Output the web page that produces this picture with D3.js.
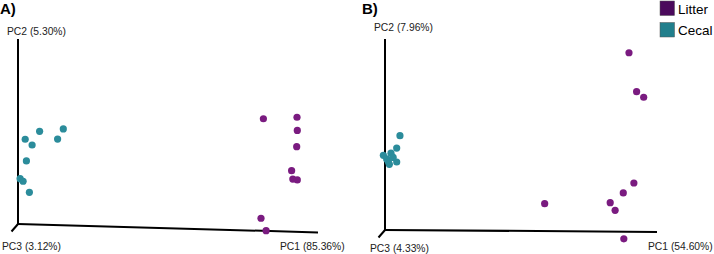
<!DOCTYPE html>
<html>
<head>
<meta charset="utf-8">
<script src="https://cdn.jsdelivr.net/npm/d3@7"></script>
<style>
body{margin:0;background:#fff;}
text{font-family:"Liberation Sans",Arial,sans-serif;}
</style>
</head>
<body>
<div id="chart"></div>
<script>
// projected PCoA coordinates (0-100 along each drawn axis)
var groups = ["Litter","Cecal"];
var groupColors = ["#4b0a5c","#217f8c"];
var dotColors = ["#7a1b80","#2b8c9b"];

var panelNames = ["A)","B)"];
var pc1Labels = ["PC1 (85.36%)","PC1 (54.60%)"];
var pc2Labels = ["PC2 (5.30%)","PC2 (7.96%)"];
var pc3Labels = ["PC3 (3.12%)","PC3 (4.33%)"];

var litterA_x = [81.8,93.0,93.1,92.9,91.2,91.6,93.1,81.0,82.7];
var litterA_y = [56.9,57.7,50.6,41.8,28.8,24.3,23.8,3.1,-3.6];
var cecalA_x = [7.2,15.1,2.4,4.7,13.2,2.8,0.7,1.7,3.8];
var cecalA_y = [50.1,51.4,45.8,42.7,45.9,34.1,24.5,23.1,17.1];

var litterB_x = [89.7,92.5,95.1,91.5,87.6,58.7,82.8,84.6,87.8];
var litterB_y = [92.8,72.4,69.5,24.6,19.4,13.8,14.3,10.3,-4.6];
var cecalB_x = [5.5,4.3,2.2,-0.6,0.6,4.3,1.2,1.6,3.0];
var cecalB_y = [49.4,42.9,40.2,39.1,37.2,35.6,35.8,34.4,38.0];

var width=714, height=254;
var svg = d3.select("#chart")
    .append("svg")
    .attr("width",width)
    .attr("height",height);

var panels = [
  {x0:18, x1:318, y0:224, y1:39, tilt:0.028, titleX:0, lab2Y:35, lab3X:2, lab3Y:250, lab1X:280, lab1Y:250,
   litter:[litterA_x,litterA_y], cecal:[cecalA_x,cecalA_y]},
  {x0:385, x1:657, y0:230, y1:39, tilt:0.007, titleX:362, lab2Y:31, lab3X:370, lab3Y:252, lab1X:648, lab1Y:250,
   litter:[litterB_x,litterB_y], cecal:[cecalB_x,cecalB_y]}
];

function zip(xs,ys){
  var out=[];
  for(var i=0;i<xs.length;i++){ out.push([xs[i],ys[i]]); }
  return out;
}

panels.forEach(function(p,k){
  var xScale = d3.scaleLinear().domain([0,100]).range([p.x0,p.x1]);
  var yScale = d3.scaleLinear().domain([0,100]).range([p.y0,p.y1]);
  var g = svg.append("g");

  // axes
  g.append("line")
    .attr("x1",xScale(0)).attr("y1",yScale(0))
    .attr("x2",xScale(0)).attr("y2",yScale(100))
    .attr("stroke","#000").attr("stroke-width",2);
  g.append("line")
    .attr("x1",xScale(0)).attr("y1",yScale(0))
    .attr("x2",xScale(100)).attr("y2",yScale(0)+(p.x1-p.x0)*p.tilt)
    .attr("stroke","#000").attr("stroke-width",2);
  g.append("line")
    .attr("x1",xScale(0)).attr("y1",yScale(0))
    .attr("x2",xScale(0)-6.5).attr("y2",yScale(0)+7.5)
    .attr("stroke","#000").attr("stroke-width",2);

  g.append("text").attr("x",p.titleX).attr("y",14)
    .attr("font-size",15).attr("font-weight","bold").text(panelNames[k]);
  g.append("text").attr("x",xScale(0)-11).attr("y",p.lab2Y)
    .attr("font-size",10.3).attr("fill","#222").text(pc2Labels[k]);
  g.append("text").attr("x",p.lab3X).attr("y",p.lab3Y)
    .attr("font-size",10.3).attr("fill","#222").text(pc3Labels[k]);
  g.append("text").attr("x",p.lab1X).attr("y",p.lab1Y)
    .attr("font-size",10.3).attr("fill","#222").text(pc1Labels[k]);

  g.selectAll("circle.cecal")
    .data(zip(p.cecal[0],p.cecal[1]))
    .enter().append("circle")
    .attr("class","cecal")
    .attr("cx",function(d){return xScale(d[0]);})
    .attr("cy",function(d){return yScale(d[1]);})
    .attr("r",3.6)
    .attr("fill",dotColors[1]);

  g.selectAll("circle.litter")
    .data(zip(p.litter[0],p.litter[1]))
    .enter().append("circle")
    .attr("class","litter")
    .attr("cx",function(d){return xScale(d[0]);})
    .attr("cy",function(d){return yScale(d[1]);})
    .attr("r",3.6)
    .attr("fill",dotColors[0]);
});

// legend
var legend = svg.selectAll("g.legend")
    .data(groups)
    .enter().append("g")
    .attr("class","legend")
    .attr("transform",function(d,i){return "translate(660,"+(1+i*21.5)+")";});
legend.append("rect")
    .attr("width",14.5).attr("height",14.5)
    .attr("fill",function(d,i){return groupColors[i];})
    .attr("stroke","#555").attr("stroke-width",0.5);
legend.append("text")
    .attr("x",18).attr("y",12.5)
    .attr("font-size",13.5)
    .text(function(d){return d;});
</script>
</body>
</html>
